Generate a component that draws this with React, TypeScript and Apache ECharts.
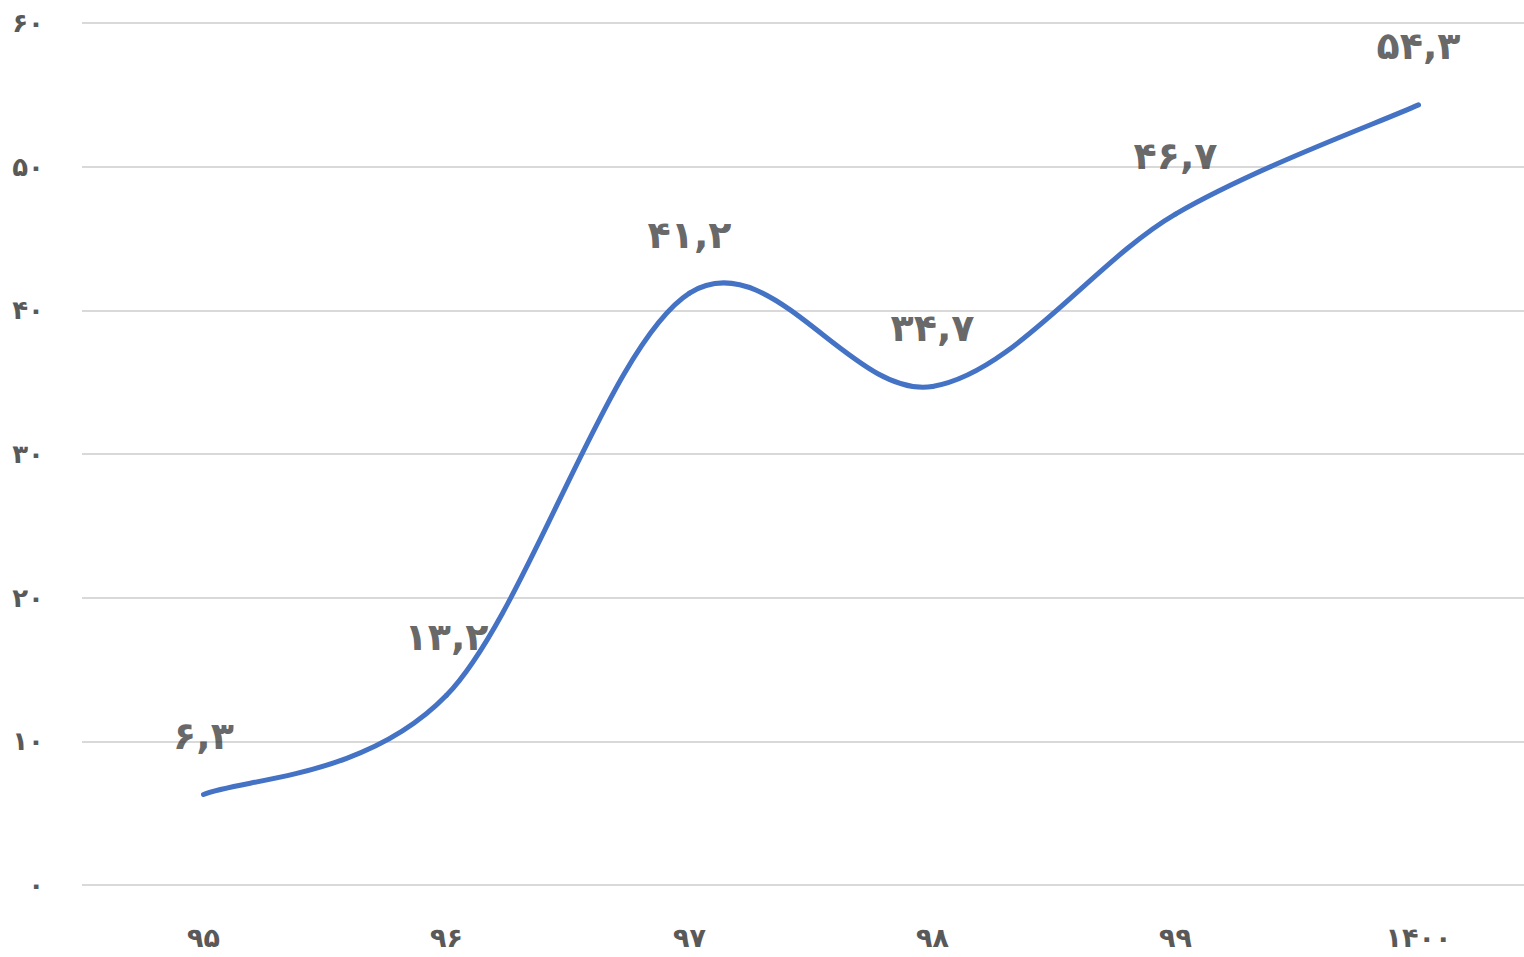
import React, { useEffect, useRef } from "react";
import * as echarts from "echarts";

const categories = ["۹۵", "۹۶", "۹۷", "۹۸", "۹۹", "۱۴۰۰"];
const values = [6.3, 13.2, 41.2, 34.7, 46.7, 54.3];
const valueLabels = ["۶,۳", "۱۳,۲", "۴۱,۲", "۳۴,۷", "۴۶,۷", "۵۴,۳"];
const yTickLabels: Record<number, string> = { 0: "۰", 10: "۱۰", 20: "۲۰", 30: "۳۰", 40: "۴۰", 50: "۵۰", 60: "۶۰" };

const FONT = "'DejaVu Sans', 'Noto Sans', sans-serif";

export default function App() {
  const ref = useRef<HTMLDivElement>(null);
  useEffect(() => {
    if (!ref.current) return;
    const chart = echarts.init(ref.current, undefined, { renderer: "svg" });
    const n = values.length;
    chart.setOption({
      animation: false,
      grid: { left: 82, top: 23, right: 0, bottom: 72, containLabel: false },
      xAxis: {
        type: "category",
        data: categories,
        boundaryGap: true,
        axisLine: { show: false },
        axisTick: { show: false },
        axisLabel: { color: "#595959", fontSize: 27, fontWeight: "bold", fontFamily: FONT, margin: 39 },
      },
      yAxis: {
        type: "value",
        min: 0,
        max: 60,
        interval: 10,
        axisLine: { show: false },
        axisTick: { show: false },
        splitLine: { lineStyle: { color: "#d9d9d9", width: 2 } },
        axisLabel: {
          color: "#595959",
          fontSize: 26,
          fontWeight: "bold",
          fontFamily: FONT,
          margin: 38,
          formatter: (v: number) => yTickLabels[v] ?? String(v),
        },
      },
      series: [
        {
          type: "custom",
          data: values.map((v, i) => [i, v]),
          encode: { x: 0, y: 1 },
          silent: true,
          renderItem: (params: any, api: any) => {
            const i = params.dataIndex;
            if (i >= n - 1) return null;
            const pt = (k: number) => {
              const kk = Math.max(0, Math.min(n - 1, k));
              return api.coord([kk, values[kk]]);
            };
            const p0 = pt(i - 1);
            const p1 = pt(i);
            const p2 = pt(i + 1);
            const p3 = pt(i + 2);
            const c1 = [p1[0] + (p2[0] - p0[0]) / 6, p1[1] + (p2[1] - p0[1]) / 6];
            const c2 = [p2[0] - (p3[0] - p1[0]) / 6, p2[1] - (p3[1] - p1[1]) / 6];
            return {
              type: "bezierCurve",
              shape: {
                x1: p1[0], y1: p1[1], x2: p2[0], y2: p2[1],
                cpx1: c1[0], cpy1: c1[1], cpx2: c2[0], cpy2: c2[1],
              },
              style: { stroke: "#4472C4", lineWidth: 5, fill: "none", lineCap: "round" },
            };
          },
          z: 3,
        },
        {
          type: "scatter",
          data: values.map((v, i) => [i, v]),
          symbol: "circle",
          symbolSize: 1,
          itemStyle: { color: "rgba(0,0,0,0)" },
          silent: true,
          label: {
            show: true,
            position: "top",
            distance: 39,
            color: "#3f3f3f",
            fontSize: 38,
            fontWeight: "bold",
            fontFamily: FONT,
            formatter: (p: any) => valueLabels[p.dataIndex],
          },
          z: 4,
        },
      ],
    });
    return () => chart.dispose();
  }, []);
  return (
    <div
      ref={ref}
      style={{ position: "fixed", left: 0, top: 0, width: 1540, height: 957, background: "#fff" }}
    />
  );
}
